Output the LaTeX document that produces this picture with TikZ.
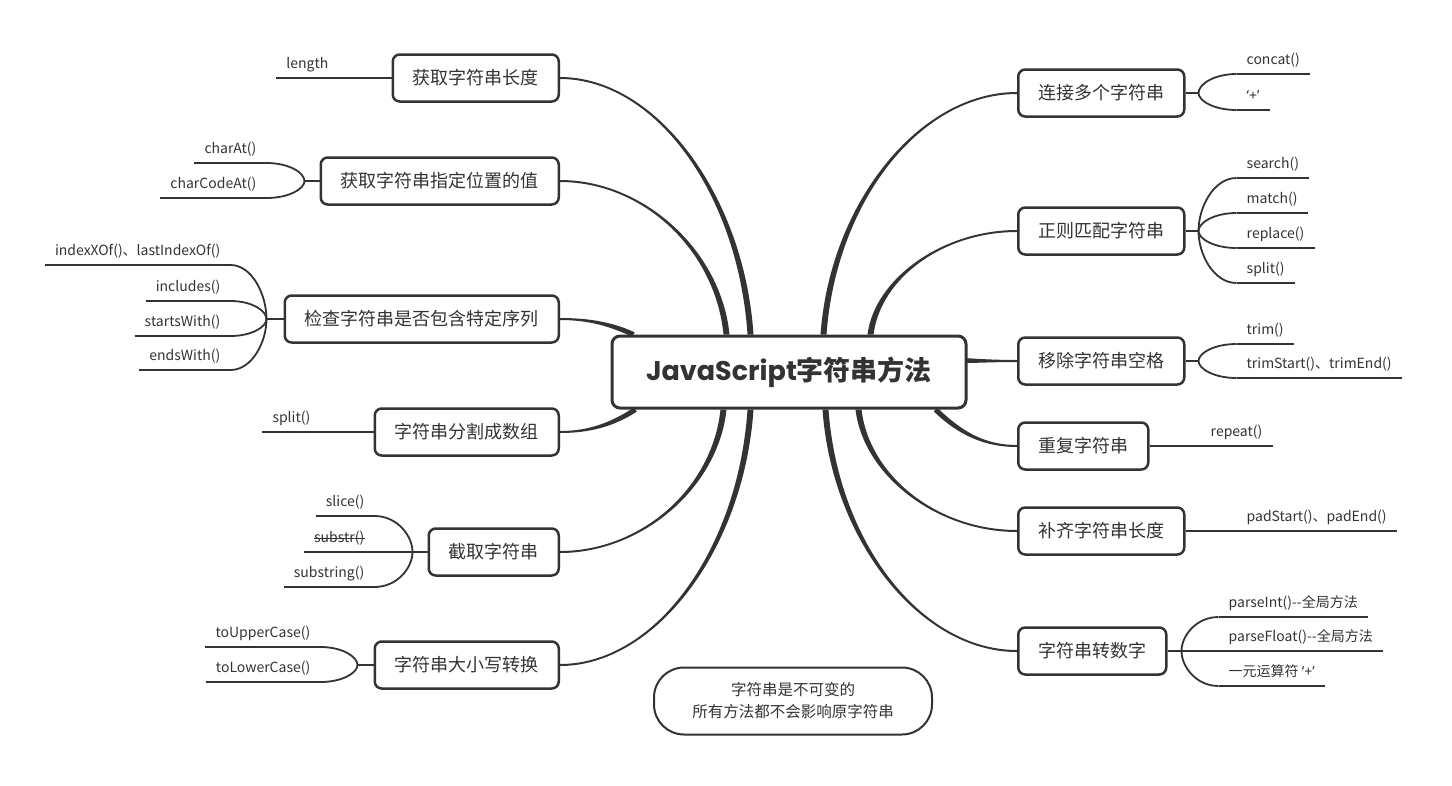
\documentclass[tikz,border=0pt]{standalone}
\usepackage{fontspec}
\setmainfont{Noto Sans CJK SC}
\newfontfamily\popfont{Poppins}
\newfontfamily\latinfont{Noto Sans}
\usetikzlibrary{calc}
\definecolor{ink}{HTML}{333333}
\pgfdeclarelayer{bg}
\pgfsetlayers{bg,main}
% #1 branch end, #2 root end, #3 half-width offset at root end, #4 c1 factor, #5 c2 x factor, #6 c2 y factor
\newcommand\taper[6]{%
  \fill[ink] let \p1=(#1), \p2=(#2), \p3=(#3) in
  (\x1,{\y1+1pt}) .. controls ({\x1+#4*(\x2-\x1)},{\y1+1pt}) and ({\x2-#5*(\x2-\x1)+\x3},{\y2-#6*(\y2-\y1)+\y3}) .. ({\x2+\x3},{\y2+\y3})
  -- ({\x2-\x3},{\y2-\y3}) .. controls ({\x2-#5*(\x2-\x1)-\x3},{\y2-#6*(\y2-\y1)-\y3}) and ({\x1+#4*(\x2-\x1)},{\y1-1pt}) .. (\x1,{\y1-1pt}) -- cycle;}
\newcommand\rootconn[3]{\taper{#1}{#2}{#3}{0.5}{0.05}{0.55}}
\newcommand\rootconnshort[3]{\taper{#1}{#2}{#3}{0.4}{0.3}{0.65}}
\newcommand\leafconn[2]{%
  \draw[leafline] let \p1=(#1), \p2=(#2) in
  (\p1) .. controls ({\x1+0.6*(\x2-\x1)},\y1) and (\x2,{\y2+0.45*(\y1-\y2)}) .. (\p2);}
\begin{document}
\begin{tikzpicture}[x=1pt,y=-1pt,
  rootbox/.style={draw=ink, line width=3pt, rounded corners=8pt, fill=white,
    minimum width=354pt, minimum height=72pt, inner sep=0pt, text=ink,
    font=\fontsize{27}{31}\selectfont\bfseries},
  branch/.style={draw=ink, line width=2.5pt, rounded corners=7pt, fill=white,
    minimum height=47pt, inner xsep=20pt, inner ysep=0pt, text=ink,
    font=\fontsize{18}{22}\selectfont},
  leaf/.style={inner xsep=10pt, inner ysep=0pt, text depth=9pt, text=ink,
    font=\fontsize{14}{16}\selectfont},
  leafline/.style={draw=ink, line width=1.8pt},
  strike/.style={draw=ink, line width=1pt},
  note/.style={draw=ink, line width=2pt, rounded corners=30pt, fill=white,
    minimum width=278pt, minimum height=67pt, inner sep=0pt, align=center,
    text=ink, font=\fontsize{15.5}{22}\selectfont}
]
\useasboundingbox (0,0) rectangle (1452,785);

% root
\node[rootbox] (root) at (789,372) {{\popfont JavaScript}字符串方法};

% left branches
\node[branch, anchor=east] (b1) at (560,78)  {获取字符串长度};
\node[branch, anchor=east] (b2) at (560,181) {获取字符串指定位置的值};
\node[branch, anchor=east] (b3) at (560,319) {检查字符串是否包含特定序列};
\node[branch, anchor=east] (b4) at (560,432) {字符串分割成数组};
\node[branch, anchor=east] (b5) at (560,552) {截取字符串};
\node[branch, anchor=east] (b6) at (560,665) {字符串大小写转换};

% right branches
\node[branch, anchor=west] (r1) at (1017,93)  {连接多个字符串};
\node[branch, anchor=west] (r2) at (1017,231) {正则匹配字符串};
\node[branch, anchor=west] (r3) at (1017,361) {移除字符串空格};
\node[branch, anchor=west] (r4) at (1017,446) {重复字符串};
\node[branch, anchor=west] (r5) at (1017,531) {补齐字符串长度};
\node[branch, anchor=west] (r6) at (1017,651) {字符串转数字};

% note
\node[note] (note) at (793,701) {字符串是不可变的\\所有方法都不会影响原字符串};

% root attachment points
\coordinate (rb1) at ($(root.north west)+(140,0)$);
\coordinate (rb2) at ($(root.north west)+(116,0)$);
\coordinate (rb3) at ($(root.north west)+(23,0)$);
\coordinate (rb4) at ($(root.south west)+(25,0)$);
\coordinate (rb5) at ($(root.south west)+(113,0)$);
\coordinate (rb6) at ($(root.south west)+(140,0)$);
\coordinate (rr1) at ($(root.north west)+(213,0)$);
\coordinate (rr2) at ($(root.north west)+(260,0)$);
\coordinate (rr3) at ($(root.north east)+(-2,26)$);
\coordinate (rr4) at ($(root.south west)+(325,0)$);
\coordinate (rr5) at ($(root.south west)+(248,0)$);
\coordinate (rr6) at ($(root.south west)+(215,0)$);

% junctions
\coordinate (j2) at ($(b2.west)+(-15,0)$);
\coordinate (j3) at ($(b3.west)+(-17,0)$);
\coordinate (j5) at ($(b5.west)+(-15,0)$);
\coordinate (j6) at ($(b6.west)+(-16,0)$);
\coordinate (k1) at ($(r1.east)+(13,0)$);
\coordinate (k2) at ($(r2.east)+(13,0)$);
\coordinate (k3) at ($(r3.east)+(13,0)$);
\coordinate (k6) at ($(r6.east)+(14,0)$);

% left leaves
\node[leaf, anchor=south east] (l11) at ($(b1.west)+(-53,0)$) {length};
\node[leaf, anchor=south east] (l21) at ($(b2.west)+(-53,-18)$) {charAt()};
\node[leaf, anchor=south east] (l22) at ($(b2.west)+(-53,17)$) {charCodeAt()};
\node[leaf, anchor=south east] (l31) at ($(b3.west)+(-53,-54)$) {indexXOf()、lastIndexOf()};
\node[leaf, anchor=south east] (l32) at ($(b3.west)+(-53,-18)$) {includes()};
\node[leaf, anchor=south east] (l33) at ($(b3.west)+(-53,17)$) {startsWith()};
\node[leaf, anchor=south east] (l34) at ($(b3.west)+(-53,51)$) {endsWith()};
\node[leaf, anchor=south east] (l41) at ($(b4.west)+(-53,0)$) {split()};
\node[leaf, anchor=south east] (l51) at ($(b5.west)+(-53,-36)$) {slice()};
\node[leaf, anchor=south east] (l52) at ($(b5.west)+(-53,0)$) {substr()};
\node[leaf, anchor=south east] (l53) at ($(b5.west)+(-53,35)$) {substring()};
\node[leaf, anchor=south east] (l61) at ($(b6.west)+(-53,-18)$) {toUpperCase()};
\node[leaf, anchor=south east] (l62) at ($(b6.west)+(-53,17)$) {toLowerCase()};
\draw[strike] ($(l52.base west)+(10,-4.5)$) -- ($(l52.base east)+(-10,-4.5)$);

% right leaves
\node[leaf, anchor=south west] (m11) at ($(r1.east)+(51,-19)$) {concat()};
\node[leaf, anchor=south west] (m12) at ($(r1.east)+(51,17)$) {{\latinfont ‘+’}};
\node[leaf, anchor=south west] (m21) at ($(r2.east)+(51,-53)$) {search()};
\node[leaf, anchor=south west] (m22) at ($(r2.east)+(51,-18)$) {match()};
\node[leaf, anchor=south west] (m23) at ($(r2.east)+(51,17)$) {replace()};
\node[leaf, anchor=south west] (m24) at ($(r2.east)+(51,52)$) {split()};
\node[leaf, anchor=south west] (m31) at ($(r3.east)+(51,-17)$) {trim()};
\node[leaf, anchor=south west] (m32) at ($(r3.east)+(51,17)$) {trimStart()、trimEnd()};
\node[leaf, anchor=south west] (m41) at ($(r4.east)+(51,0)$) {repeat()};
\node[leaf, anchor=south west] (m51) at ($(r5.east)+(51,0)$) {padStart()、padEnd()};
\node[leaf, anchor=south west] (m61) at ($(r6.east)+(51,-34)$) {parseInt()-{}-全局方法};
\node[leaf, anchor=south west] (m62) at ($(r6.east)+(51,0)$) {parseFloat()-{}-全局方法};
\node[leaf, anchor=south west] (m63) at ($(r6.east)+(51,35)$) {一元运算符 {\latinfont ‘+’}};

\begin{pgfonlayer}{bg}
% root connectors
\rootconn{b1.east}{rb1}{3,0}
\rootconn{b2.east}{rb2}{3,0}
\rootconnshort{b3.east}{rb3}{1.2,-2.2}
\rootconnshort{b4.east}{rb4}{-1.2,-2.2}
\rootconn{b5.east}{rb5}{-3,0}
\rootconn{b6.east}{rb6}{-3,0}
\rootconn{r1.west}{rr1}{-3,0}
\rootconn{r2.west}{rr2}{-3,0}
\rootconn{r3.west}{rr3}{0,-2.5}
\rootconnshort{r4.west}{rr4}{1.8,-1.8}
\rootconn{r5.west}{rr5}{3,0}
\rootconn{r6.west}{rr6}{3,0}

% left leaf connectors
\draw[leafline] (l11.south west) -- (b1.west);
\draw[leafline] (l41.south west) -- (b4.west);
\foreach \l/\j in {l21/j2,l22/j2,l31/j3,l32/j3,l33/j3,l34/j3,l51/j5,l52/j5,l53/j5,l61/j6,l62/j6}{
  \draw[leafline] (\l.south west) -- (\l.south east);
  \leafconn{\l.south east}{\j}
}
\draw[leafline] (j2) -- (b2.west);
\draw[leafline] (j3) -- (b3.west);
\draw[leafline] (j5) -- (b5.west);
\draw[leafline] (j6) -- (b6.west);

% right leaf connectors
\draw[leafline] (r4.east) -- (m41.south east);
\draw[leafline] (r5.east) -- (m51.south east);
\foreach \l/\j in {m11/k1,m12/k1,m21/k2,m22/k2,m23/k2,m24/k2,m31/k3,m32/k3,m61/k6,m62/k6,m63/k6}{
  \draw[leafline] (\l.south west) -- (\l.south east);
  \leafconn{\l.south west}{\j}
}
\draw[leafline] (r1.east) -- (k1);
\draw[leafline] (r2.east) -- (k2);
\draw[leafline] (r3.east) -- (k3);
\draw[leafline] (r6.east) -- (k6);
\end{pgfonlayer}
\end{tikzpicture}
\end{document}
